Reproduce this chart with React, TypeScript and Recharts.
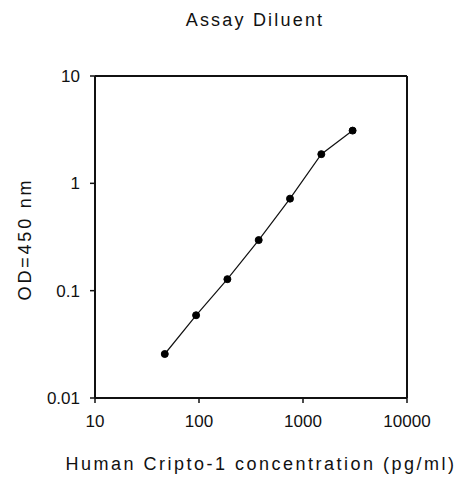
import React from "react";
import {
  LineChart,
  Line,
  XAxis,
  YAxis,
  ReferenceLine,
} from "recharts";

const concentrations = [46.875, 93.75, 187.5, 375, 750, 1500, 3000];
const odValues = [0.0257, 0.059, 0.128, 0.296, 0.72, 1.87, 3.1];
const xTicks = [10, 100, 1000, 10000];
const yTicks = [0.01, 0.1, 1, 10];

const data = concentrations.map((c, i) => ({ x: c, y: odValues[i] }));

const FONT = "'Liberation Sans', Arial, sans-serif";

const fmtY = (v: number) => String(v);

export default function App() {
  return (
    <div
      style={{
        position: "absolute",
        left: 0,
        top: 0,
        width: 457,
        height: 486,
        background: "#fff",
        fontFamily: FONT,
      }}
    >
      <div
        style={{
          position: "absolute",
          left: 255,
          top: 10,
          transform: "translateX(-50%)",
          fontSize: 18,
          letterSpacing: 2.2,
          color: "#111",
          whiteSpace: "nowrap",
        }}
      >
        Assay Diluent
      </div>
      <LineChart
        width={457}
        height={486}
        data={data}
        margin={{ top: 76, right: 50, bottom: 58, left: 0 }}
      >
        <XAxis
          dataKey="x"
          type="number"
          scale="log"
          domain={[10, 10000]}
          ticks={xTicks}
          allowDataOverflow
          height={30}
          tickSize={5}
          tickMargin={12}
          axisLine={{ stroke: "#111", strokeWidth: 2 }}
          tickLine={{ stroke: "#111", strokeWidth: 1.5 }}
          tick={{ fill: "#111", fontSize: 17, fontFamily: FONT }}
          interval={0}
        />
        <YAxis
          dataKey="y"
          type="number"
          scale="log"
          domain={[0.01, 10]}
          ticks={yTicks}
          allowDataOverflow
          width={95}
          tickSize={5}
          tickMargin={10}
          tickFormatter={fmtY}
          axisLine={{ stroke: "#111", strokeWidth: 2 }}
          tickLine={{ stroke: "#111", strokeWidth: 1.5 }}
          tick={{ fill: "#111", fontSize: 17, fontFamily: FONT }}
          interval={0}
        />
        <ReferenceLine y={10} stroke="#111" strokeWidth={2} />
        <ReferenceLine x={10000} stroke="#111" strokeWidth={2} />
        <Line
          dataKey="y"
          stroke="#111"
          strokeWidth={1.2}
          dot={{ r: 3.5, fill: "#000", stroke: "#000", strokeWidth: 1 }}
          isAnimationActive={false}
        />
      </LineChart>
      <div
        style={{
          position: "absolute",
          left: 261,
          top: 454,
          transform: "translateX(-50%)",
          fontSize: 18,
          letterSpacing: 2.5,
          color: "#111",
          whiteSpace: "nowrap",
        }}
      >
        Human Cripto-1 concentration (pg/ml)
      </div>
      <div
        style={{
          position: "absolute",
          left: 25,
          top: 239,
          transform: "translate(-50%, -50%) rotate(-90deg)",
          fontSize: 18,
          letterSpacing: 2.8,
          color: "#111",
          whiteSpace: "nowrap",
        }}
      >
        OD=450 nm
      </div>
    </div>
  );
}
